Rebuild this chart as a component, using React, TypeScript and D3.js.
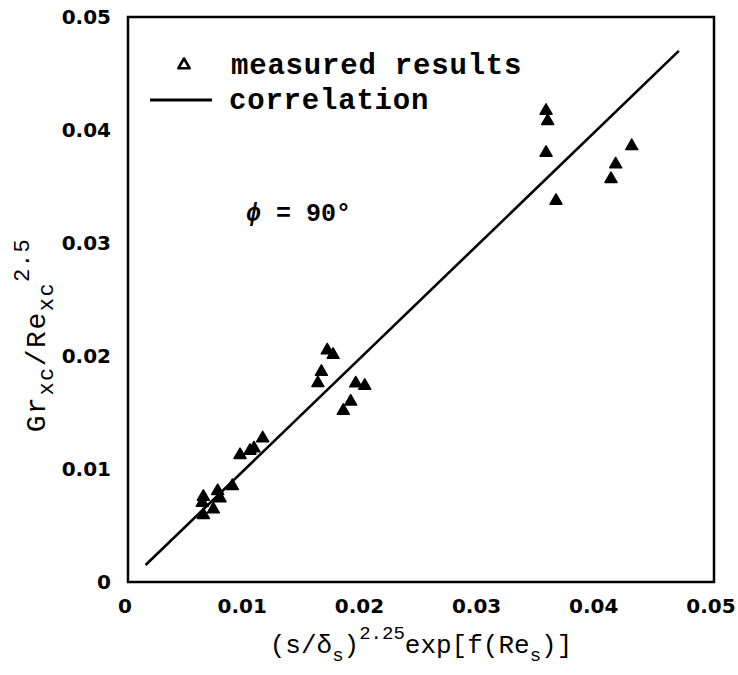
import React from "react";
import * as d3 from "d3";

const measuredX = [
  0.00643, 0.00634, 0.00643, 0.00728, 0.00765, 0.00785, 0.0089, 0.00956, 0.01041, 0.01075, 0.01149,
  0.0162, 0.0165, 0.0170, 0.0175, 0.01837, 0.019, 0.01943, 0.0202,
  0.03567, 0.03581, 0.03567, 0.03652, 0.04121, 0.04161, 0.04298,
];
const measuredY = [
  0.00755, 0.00702, 0.00593, 0.00643, 0.00805, 0.00741, 0.0085, 0.01124, 0.01162, 0.01183, 0.01272,
  0.0176, 0.0186, 0.0205, 0.0201, 0.01516, 0.01596, 0.01758, 0.01737,
  0.04171, 0.0408, 0.03799, 0.03374, 0.03566, 0.03696, 0.03858,
];
const correlationX = [0.0015, 0.047];
const correlationY = [0.0015, 0.047];
const xTicks = [0, 0.01, 0.02, 0.03, 0.04, 0.05];
const yTicks = [0, 0.01, 0.02, 0.03, 0.04, 0.05];
const tickLabels = ["0", "0.01", "0.02", "0.03", "0.04", "0.05"];

const W = 738;
const H = 675;
const L = 128, R = 714, T = 17, B = 582;

export default function App() {
  const x = d3.scaleLinear().domain([0, 0.05]).range([L, R]);
  const y = d3.scaleLinear().domain([0, 0.05]).range([B, T]);
  const tri = d3.symbol().type(d3.symbolTriangle).size(62)();
  const triOpen = d3.symbol().type(d3.symbolTriangle).size(55)();
  const line = d3
    .line<number>()
    .x((d) => x(correlationX[d]))
    .y((d) => y(correlationY[d]));
  const mono = "'Liberation Mono', 'DejaVu Sans Mono', monospace";
  const sans = "'DejaVu Sans', sans-serif";

  return (
    <svg
      width={W}
      height={H}
      style={{ position: "absolute", left: 0, top: 0, background: "#fff" }}
    >
      <rect x={0} y={0} width={W} height={H} fill="#fff" />
      {/* frame */}
      <rect
        x={L}
        y={T}
        width={R - L}
        height={B - T}
        fill="none"
        stroke="#000"
        strokeWidth={2.5}
      />
      {/* tick labels */}
      {xTicks.map((t, i) => (
        <text
          key={"xt" + i}
          x={x(t) - 3}
          y={B + 31}
          textAnchor="middle"
          fontFamily={sans}
          fontWeight="bold"
          fontSize={20}
        >
          {tickLabels[i]}
        </text>
      ))}
      {yTicks.map((t, i) => (
        <text
          key={"yt" + i}
          x={L - 17}
          y={y(t) + 7}
          textAnchor="end"
          fontFamily={sans}
          fontWeight="bold"
          fontSize={20}
        >
          {tickLabels[i]}
        </text>
      ))}
      {/* correlation line */}
      <path d={line([0, 1]) || ""} fill="none" stroke="#000" strokeWidth={2.6} />
      {/* measured points */}
      {measuredX.map((v, i) => (
        <path
          key={"p" + i}
          d={tri}
          transform={`translate(${x(v)},${y(measuredY[i])})`}
          fill="#000"
          stroke="#000"
          strokeWidth={1.5}
          strokeLinejoin="round"
        />
      ))}
      {/* legend */}
      <path
        d={triOpen}
        transform="translate(184,65)"
        fill="none"
        stroke="#000"
        strokeWidth={2.6}
        strokeLinejoin="round"
      />
      <text x={231} y={74} fontFamily={mono} fontWeight="bold" fontSize={29} letterSpacing={0.8}>
        measured results
      </text>
      <line x1={150} x2={212} y1={100} y2={100} stroke="#000" strokeWidth={3} />
      <text x={229} y={109} fontFamily={mono} fontWeight="bold" fontSize={29} letterSpacing={0.8}>
        correlation
      </text>
      {/* phi annotation */}
      <text x={246} y={221} fontFamily={mono} fontWeight="bold" fontSize={25}>
        <tspan fontStyle="italic">ϕ</tspan>
        <tspan> = 90°</tspan>
      </text>
      {/* x axis title */}
      <text
        x={(L + R) / 2}
        y={653}
        textAnchor="middle"
        fontFamily={mono}
        fontSize={26}
      >
        <tspan>(s/δ</tspan>
        <tspan fontSize={19} dy={8}>s</tspan>
        <tspan dy={-8}>)</tspan>
        <tspan fontSize={19} dy={-14}>2.25</tspan>
        <tspan dy={14}>exp[f(Re</tspan>
        <tspan fontSize={19} dy={8}>s</tspan>
        <tspan dy={-8}>)]</tspan>
      </text>
      {/* y axis title */}
      <text
        transform="translate(45,335) rotate(-90)"
        textAnchor="middle"
        fontFamily={mono}
        fontSize={28}
        letterSpacing={1.5}
      >
        <tspan>Gr</tspan>
        <tspan fontSize={22} dy={8}>xc</tspan>
        <tspan dy={-8}>/Re</tspan>
        <tspan fontSize={22} dy={8}>xc</tspan>
        <tspan fontSize={22} dy={-24}>2.5</tspan>
      </text>
    </svg>
  );
}
